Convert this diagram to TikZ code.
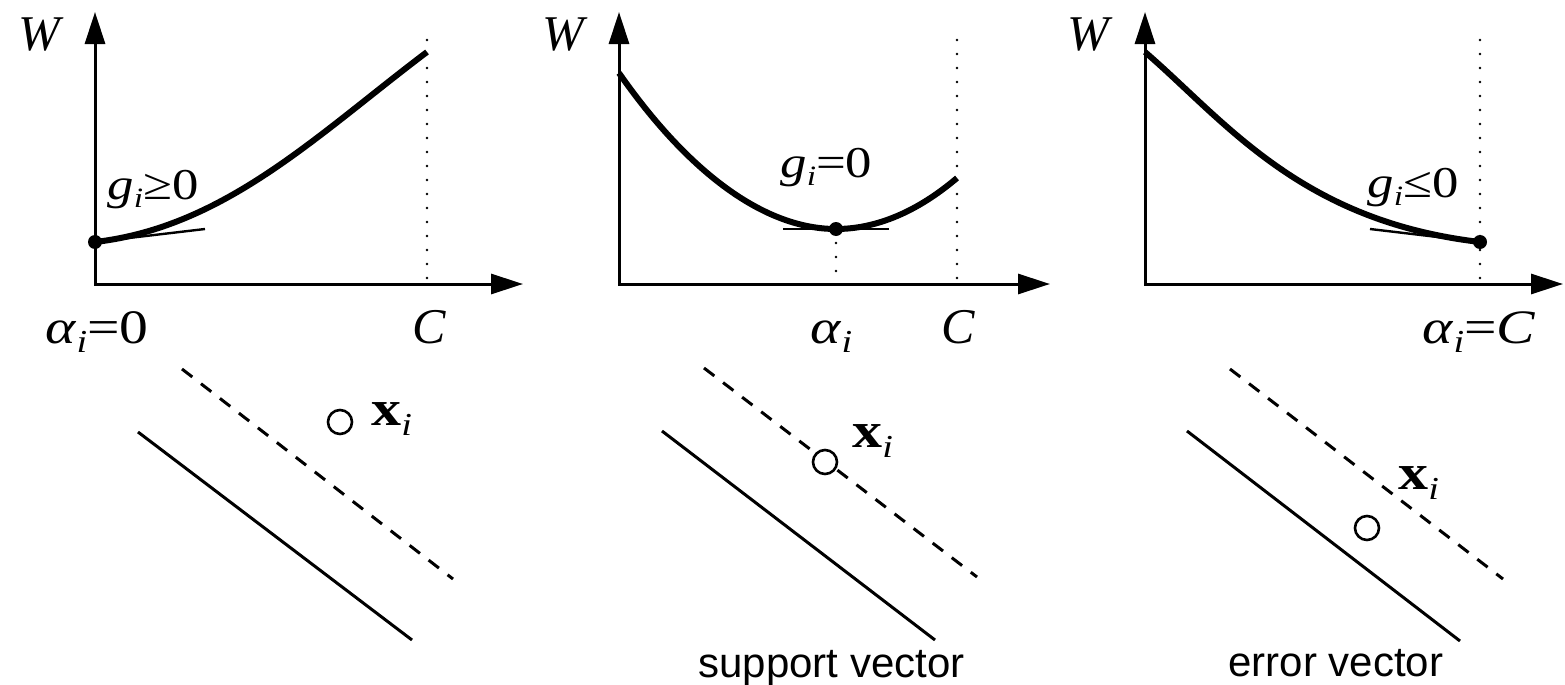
\documentclass[tikz,border=0pt]{standalone}
\usepackage{fontspec}
\setmainfont{Liberation Serif}
\newfontfamily\widefont{Liberation Serif}[FakeStretch=1.2]
\newfontfamily\labelsans{Liberation Sans}
\usetikzlibrary{arrows.meta}
\newcommand{\sub}[2][15]{\raisebox{-0.2em}{\fontsize{#1}{#1}\selectfont\itshape #2}}
\tikzset{
  axis/.style={line width=1.5pt,{Triangle[length=16pt,width=10pt]}-{Triangle[length=16pt,width=10pt]}},
  wcurve/.style={line width=3pt},
  tangent/.style={line width=1.2pt},
  guide/.style={line width=1.4pt,line cap=round,dash pattern=on 0pt off 7pt},
  plane/.style={line width=1.5pt},
  margin/.style={line width=1.5pt,dash pattern=on 6.5pt off 5.5pt},
  point/.style={circle,draw,line width=1.3pt,minimum size=12pt,inner sep=0pt},
  biglabel/.style={font=\fontsize{25}{30}\selectfont,inner sep=0pt,anchor=base west},
  alabel/.style={font=\widefont\fontsize{24}{28}\selectfont,inner sep=0pt,anchor=base west},
  glabel/.style={font=\widefont\fontsize{22}{26}\selectfont,inner sep=0pt,anchor=base west},
  xlabel/.style={font=\widefont\fontsize{25}{28}\selectfont,inner sep=0pt,anchor=base west},
  caption/.style={font=\labelsans\fontsize{21}{25}\selectfont,inner sep=0pt,anchor=base west}
}
\begin{document}
\begin{tikzpicture}[x=0.5pt,y=-0.5pt]
\useasboundingbox (0,0) rectangle (1565,685);
% alpha_i = 0
\coordinate (o1) at (95,284);
\coordinate (y1) at (95,12);
\coordinate (x1) at (523,284);
\draw[axis] (y1) -- (o1) -- (x1);
\coordinate (c1top) at (427,40);
\coordinate (c1) at (427,284);
\draw[guide] (c1top) -- (c1);
\coordinate (s1) at (95,242);
\coordinate (e1) at (427,52);
\coordinate (t1) at (205,229);
\draw[tangent] (s1) -- (t1);
\draw[wcurve] (s1) .. controls (225,227) and (317,135) .. (e1);
\fill (s1) circle (3.5pt);
\node[biglabel] (w1) at (18,50) {\textit{W}};
\node[alabel] (a1) at (45,343) {\textit{α}\sub[16]{i}=0};
\node[biglabel] (cl1) at (412,343) {\textit{C}};
\node[glabel] (g1) at (107,199) {\textit{g}\sub[14]{i}≥0};
\coordinate (p1a) at (138,432);
\coordinate (p1b) at (412,640);
\coordinate (m1a) at (182,369);
\coordinate (m1b) at (453,579);
\draw[plane] (p1a) -- (p1b);
\draw[margin] (m1a) -- (m1b);
\node[point] (pt1) at (340,422) {};
\node[xlabel] (xi1) at (371,425) {\textbf{x}\sub[16]{i}};
% 0 < alpha_i < C
\coordinate (o2) at (619,284);
\coordinate (y2) at (619,12);
\coordinate (x2) at (1050,284);
\draw[axis] (y2) -- (o2) -- (x2);
\coordinate (c2top) at (957,40);
\coordinate (c2) at (957,284);
\draw[guide] (c2top) -- (c2);
\coordinate (m2) at (836,229);
\coordinate (a2) at (836,284);
\draw[guide] (m2) -- (a2);
\coordinate (s2) at (619,73);
\coordinate (e2) at (957,178);
\coordinate (t2a) at (783,229);
\coordinate (t2b) at (889,229);
\draw[tangent] (t2a) -- (t2b);
\draw[wcurve] (s2) .. controls (688,172) and (764,229) .. (m2) .. controls (876,229) and (917,212) .. (e2);
\fill (m2) circle (3.5pt);
\node[biglabel] (w2) at (542,50) {\textit{W}};
\node[alabel] (al2) at (810,343) {\textit{α}\sub[16]{i}};
\node[biglabel] (cl2) at (941,343) {\textit{C}};
\node[glabel] (g2) at (780,177) {\textit{g}\sub[14]{i}=0};
\coordinate (p2a) at (662,431);
\coordinate (p2b) at (935,640);
\coordinate (m2a) at (704,368);
\coordinate (m2b) at (977,577);
\draw[plane] (p2a) -- (p2b);
\draw[margin] (m2a) -- (m2b);
\node[point,fill=white] (pt2) at (825,462) {};
\node[xlabel] (xi2) at (852,447) {\textbf{x}\sub[16]{i}};
\node[caption] (sv) at (698,677) {support vector};
% alpha_i = C
\coordinate (o3) at (1145,284);
\coordinate (y3) at (1145,12);
\coordinate (x3) at (1563,284);
\draw[axis] (y3) -- (o3) -- (x3);
\coordinate (c3top) at (1480,40);
\coordinate (c3) at (1480,284);
\draw[guide] (c3top) -- (c3);
\coordinate (s3) at (1145,52);
\coordinate (e3) at (1480,242);
\coordinate (t3) at (1370,229);
\draw[tangent] (t3) -- (e3);
\draw[wcurve] (s3) .. controls (1225,121) and (1300,221) .. (e3);
\fill (e3) circle (3.5pt);
\node[biglabel] (w3) at (1067,50) {\textit{W}};
\node[alabel] (al3) at (1422,343) {\textit{α}\sub[16]{i}=\textit{C}};
\node[glabel] (g3) at (1367,197) {\textit{g}\sub[14]{i}≤0};
\coordinate (p3a) at (1187,431);
\coordinate (p3b) at (1460,641);
\coordinate (m3a) at (1230,369);
\coordinate (m3b) at (1503,579);
\draw[plane] (p3a) -- (p3b);
\draw[margin] (m3a) -- (m3b);
\node[point] (pt3) at (1367,528) {};
\node[xlabel] (xi3) at (1398,489) {\textbf{x}\sub[16]{i}};
\node[caption] (ev) at (1228,676) {error vector};
\end{tikzpicture}
\end{document}
